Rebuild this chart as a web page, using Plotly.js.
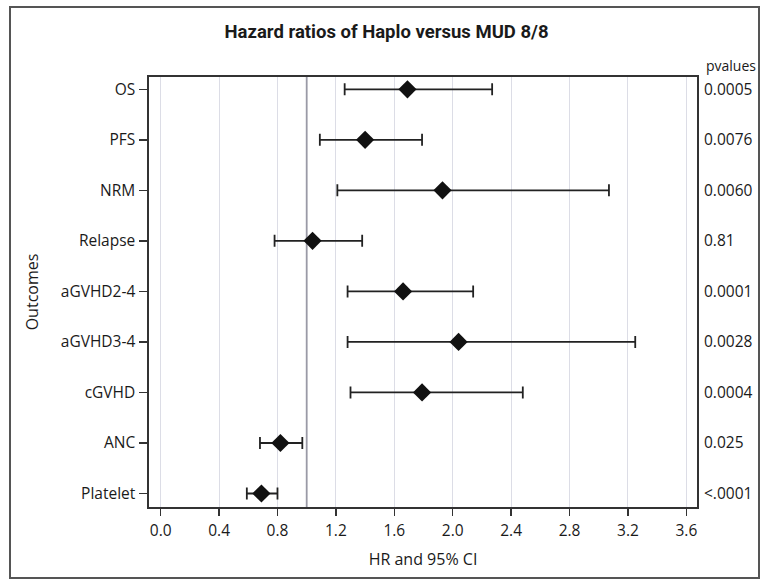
<!DOCTYPE html>
<html>
<head>
<meta charset="utf-8">
<script src="https://cdn.plot.ly/plotly-3.0.1.min.js"></script>
<style>html,body{margin:0;padding:0;background:#fff;}#chart{width:763px;height:581px;}</style>
</head>
<body>
<div id="chart"></div>
<script>
const outcomes = ["OS", "PFS", "NRM", "Relapse", "aGVHD2-4", "aGVHD3-4", "cGVHD", "ANC", "Platelet"];
const hr = [1.69, 1.40, 1.93, 1.04, 1.66, 2.04, 1.79, 0.82, 0.69];
const lower = [1.26, 1.09, 1.21, 0.78, 1.28, 1.28, 1.30, 0.68, 0.59];
const upper = [2.27, 1.79, 3.07, 1.38, 2.14, 3.25, 2.48, 0.97, 0.80];
const pvalues = ["0.0005", "0.0076", "0.0060", "0.81", "0.0001", "0.0028", "0.0004", "0.025", "<.0001"];
const xTicks = [0.0, 0.4, 0.8, 1.2, 1.6, 2.0, 2.4, 2.8, 3.2, 3.6];
const refValue = 1.0;

const FONT = "Open Sans, sans-serif";
const TXT = "#1a1a1a";
const yRange = [8.267, -0.243];

const traces = [
  {
    type: "scatter", mode: "markers",
    x: hr, y: outcomes, xaxis: "x", yaxis: "y",
    marker: {symbol: "diamond", size: 14, color: "#111111"},
    error_x: {
      type: "data", symmetric: false,
      array: upper.map((u, i) => u - hr[i]),
      arrayminus: hr.map((h, i) => h - lower[i]),
      color: "#222222", thickness: 1.8, width: 6
    },
    hoverinfo: "x+y", showlegend: false
  },
  {
    type: "scatter", mode: "markers",
    x: hr, y: pvalues, xaxis: "x", yaxis: "y2",
    marker: {opacity: 0, size: 1},
    hoverinfo: "skip", showlegend: false
  }
];

const layout = {
  width: 763, height: 581,
  margin: {l: 149, r: 66, t: 77, b: 74, pad: 0},
  paper_bgcolor: "#ffffff", plot_bgcolor: "#ffffff",
  font: {family: FONT, size: 15.5, color: TXT},
  title: {
    text: "<b>Hazard ratios of Haplo versus MUD 8/8</b>",
    font: {family: "Roboto, sans-serif", size: 18.5, color: TXT},
    xref: "container", yref: "container",
    x: 0.5066, xanchor: "center", y: 1 - 32/581, yanchor: "middle"
  },
  xaxis: {
    range: [-0.08, 3.673],
    tickvals: xTicks, ticktext: xTicks.map(v => v.toFixed(1)),
    showgrid: true, gridcolor: "#dcdde6", gridwidth: 1,
    zeroline: false,
    showline: true, linecolor: "#333333", linewidth: 1.6, mirror: true,
    ticks: "outside", ticklen: 7, tickwidth: 1.5, tickcolor: "#333333",
    tickfont: {family: FONT, size: 15.5, color: TXT},
    ticklabelstandoff: 2,
    title: {text: "HR and 95% CI", font: {family: FONT, size: 16, color: TXT}, standoff: 13}
  },
  yaxis: {
    type: "category", categoryorder: "array", categoryarray: outcomes,
    range: yRange,
    showgrid: false, zeroline: false,
    showline: true, linecolor: "#333333", linewidth: 1.6, mirror: true,
    ticks: "outside", ticklen: 8, tickwidth: 1.5, tickcolor: "#333333",
    tickfont: {family: FONT, size: 15.5, color: TXT},
    ticklabelstandoff: 1,
    title: {text: "Outcomes", font: {family: FONT, size: 16, color: TXT}, standoff: 18}
  },
  yaxis2: {
    type: "category", categoryorder: "array", categoryarray: pvalues,
    range: yRange, overlaying: "y", side: "right",
    showgrid: false, zeroline: false, showline: false,
    ticks: "", ticklabelstandoff: 6,
    tickfont: {family: FONT, size: 15.5, color: TXT}
  },
  shapes: [
    {type: "line", xref: "x", yref: "paper", x0: refValue, x1: refValue, y0: 0, y1: 1,
     line: {color: "#9a9aa6", width: 1.8}, layer: "below"},
    {type: "rect", xref: "paper", yref: "paper",
     x0: (10 - 149) / 548, x1: (759 - 149) / 548,
     y0: (507 - 578) / 430, y1: (507 - 7) / 430,
     line: {color: "#555555", width: 2}, fillcolor: "rgba(0,0,0,0)"}
  ],
  annotations: [
    {text: "pvalues", xref: "paper", yref: "paper",
     x: (704 - 149) / 548, y: (507 - 65) / 430, xanchor: "left", yanchor: "middle",
     showarrow: false, font: {family: FONT, size: 14, color: TXT}}
  ]
};

Plotly.newPlot("chart", traces, layout, {displayModeBar: false, staticPlot: true});
</script>
</body>
</html>
